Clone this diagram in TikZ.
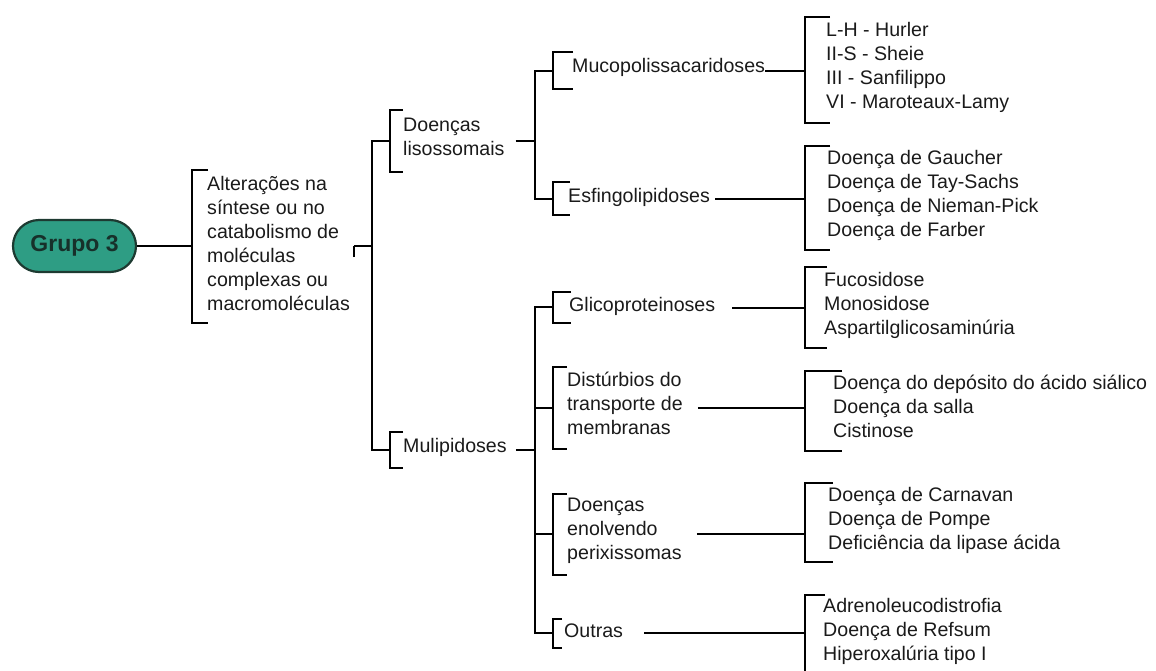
\documentclass[tikz,border=0pt]{standalone}
\usepackage{fontspec}
\setmainfont{Liberation Sans}
\usetikzlibrary{calc}
\definecolor{pillfill}{HTML}{2E9D84}
\definecolor{pilledge}{HTML}{1D3A31}
\definecolor{pilltext}{HTML}{17302A}
\definecolor{ink}{HTML}{1A1A1A}
% square bracket: #1 = x of spine, #2 = top, #3 = bottom, #4 = x where the ticks end
\newcommand\bracketat[4]{\draw[brk] (#4,#2) -- (#1,#2) -- (#1,#3) -- (#4,#3);}
\begin{document}
\begin{tikzpicture}[x=1pt,y=-1pt,
  conn/.style={line width=1.3pt, black},
  heavy/.style={line width=2.4pt, black},
  brk/.style={line width=2.4pt, black, line join=miter},
  lbl/.style={anchor=west, inner sep=0pt, align=left, text=ink,
    font=\fontsize{19.6}{24}\selectfont,
    execute at begin node=\strut, execute at end node=\strut},
  pill/.style={draw=pilledge, line width=2.2pt, fill=pillfill,
    rounded corners=26pt, minimum width=123pt, minimum height=52pt,
    inner sep=0pt, text=pilltext, font=\fontsize{23}{28}\selectfont\bfseries}]
\useasboundingbox (0,0) rectangle (1156,670);
\clip (0,0) rectangle (1156,670);

% ---- root and its description ----
\node[pill] (root) at (74.5,246) {Grupo 3};
\node[lbl] (alt) at (207,247) {Alterações na\\síntese ou no\\catabolismo de\\moléculas\\complexas ou\\macromoléculas};
\bracketat{192}{170}{323}{208}
\coordinate (jAlt) at (192,246);
\draw[conn] (root.east) -- (jAlt);

% ---- main trunk ----
\coordinate (mk) at (354,257);
\coordinate (mkc) at (354,246);
\coordinate (tr) at (372,246);
\draw[conn, line width=2pt] (mk) -- (mkc);
\draw[conn] (mkc) -- (tr);
\coordinate (jTop) at (372,141);
\coordinate (jBot) at (372,450);
\coordinate (bDL) at (390,141);
\coordinate (bMul) at (390,450);
\draw[conn] (bDL) -- (jTop) -- (jBot) -- (bMul);
\bracketat{390}{110}{172}{403}
\bracketat{390}{432}{468}{403}
\node[lbl] (dl) at (403,140) {Doenças\\lisossomais};
\node[lbl] (mul) at (403,448) {Mulipidoses};

% ---- lysosomal branch ----
\coordinate (kDL) at (535,141);
\draw[conn] ($(dl.east |- kDL)+(11,0)$) -- (kDL);
\coordinate (bMuco) at (553,71);
\coordinate (kMuco) at (535,71);
\coordinate (kEsf) at (535,199);
\coordinate (bEsf) at (553,199);
\draw[conn] (bMuco) -- (kMuco) -- (kEsf) -- (bEsf);
\bracketat{553}{52}{89}{573}
\bracketat{553}{182}{215}{570}
\node[lbl] (muco) at (572,68) {Mucopolissacaridoses};
\node[lbl] (esf) at (568,198) {Esfingolipidoses};

\coordinate (lMuco) at (805,71);
\draw[conn] (muco.east |- lMuco) -- (lMuco);
\coordinate (lEsf) at (805,199);
\draw[heavy] ($(esf.east |- lEsf)+(5,0)$) -- (lEsf);
\bracketat{805}{17}{123}{830}
\bracketat{805}{146}{250}{830}
\node[lbl] (mucoList) at (826,69) {L-H - Hurler\\II-S - Sheie\\III - Sanfilippo\\VI - Maroteaux-Lamy};
\node[lbl] (esfList) at (827,197) {Doença de Gaucher\\Doença de Tay-Sachs\\Doença de Nieman-Pick\\Doença de Farber};

% ---- mulipidoses branch ----
\coordinate (kMul) at (535,450);
\draw[conn] ($(mul.east |- kMul)+(9,0)$) -- (kMul);
\coordinate (kGli) at (535,307);
\coordinate (kDis) at (535,408);
\coordinate (kPer) at (535,534);
\coordinate (kOut) at (535,633);
\coordinate (bGli) at (553,307);
\coordinate (bDis) at (553,408);
\coordinate (bPer) at (553,534);
\coordinate (bOut) at (553,633);
\draw[conn] (bGli) -- (kGli) -- (kOut) -- (bOut);
\draw[conn] (kDis) -- (bDis);
\draw[conn] (kPer) -- (bPer);
\bracketat{553}{292}{323}{571}
\bracketat{553}{367}{449}{567}
\bracketat{553}{494}{575}{567}
\bracketat{553}{619}{648}{562}
\node[lbl] (gli) at (569,307) {Glicoproteinoses};
\node[lbl] (dis) at (567,407) {Distúrbios do\\transporte de\\membranas};
\node[lbl] (per) at (567,532) {Doenças\\enolvendo\\perixissomas};
\node[lbl] (out) at (564,633) {Outras};

\coordinate (lGli) at (806,308);
\coordinate (lDis) at (806,408);
\coordinate (lPer) at (806,534);
\coordinate (lOut) at (806,633);
\draw[conn] ($(gli.east |- lGli)+(17,0)$) -- (lGli);
\draw[conn] ($(dis.east |- lDis)+(15,0)$) -- (lDis);
\draw[conn] ($(per.east |- lPer)+(15,0)$) -- (lPer);
\draw[heavy] ($(out.east |- lOut)+(21,0)$) -- (lOut);
\bracketat{805}{267}{348}{827}
\bracketat{805}{371}{451}{842}
\bracketat{805}{483}{562}{833}
\bracketat{805}{595}{690}{825}
\node[lbl] (gliList) at (824,307) {Fucosidose\\Monosidose\\Aspartilglicosaminúria};
\node[lbl] (disList) at (833,410) {Doença do depósito do ácido siálico\\Doença da salla\\Cistinose};
\node[lbl] (perList) at (828,522) {Doença de Carnavan\\Doença de Pompe\\Deficiência da lipase ácida};
\node[lbl] (outList) at (823,633) {Adrenoleucodistrofia\\Doença de Refsum\\Hiperoxalúria tipo I};
\end{tikzpicture}
\end{document}
